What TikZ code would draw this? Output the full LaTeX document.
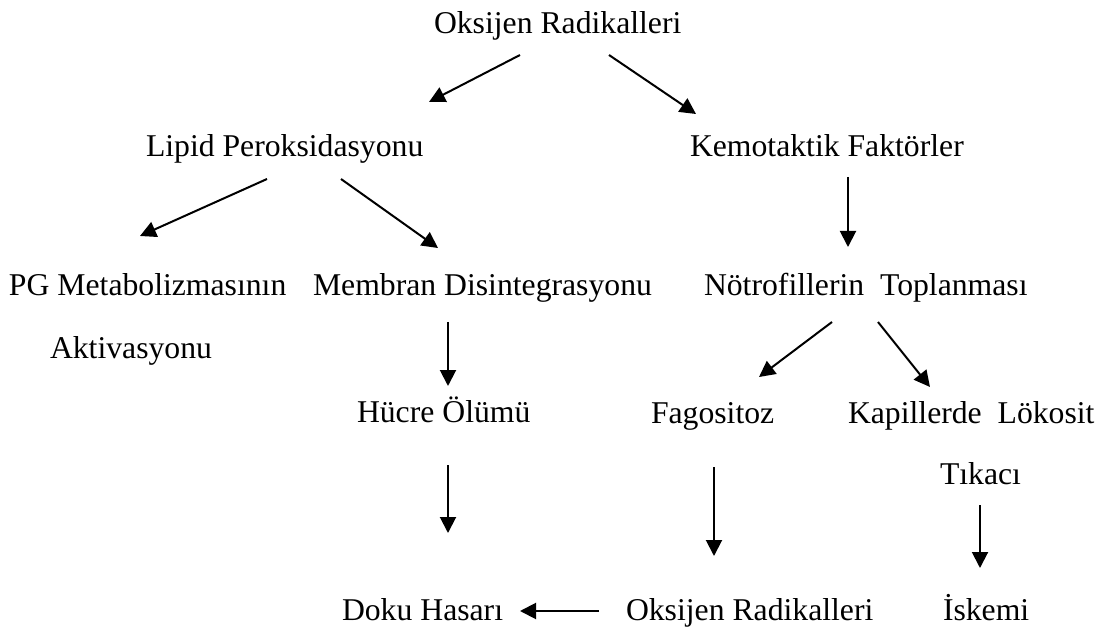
\documentclass[tikz,border=0pt]{standalone}
\usepackage{fontspec}
\setmainfont{Liberation Serif}
\usetikzlibrary{arrows.meta}
\tikzset{
  lbl/.style={anchor=base west, inner sep=0pt, outer sep=0pt, font=\fontsize{31.7}{38}\selectfont},
  arr/.style={line width=2pt, -{Triangle[length=16pt,width=16pt]}}
}
\begin{document}
\begin{tikzpicture}[x=1pt,y=-1pt]
\useasboundingbox (0,0) rectangle (1106,628);
% text nodes
\node[lbl] (top) at (434,34) {Oksijen Radikalleri};
\node[lbl] (lipid) at (146,157) {Lipid Peroksidasyonu};
\node[lbl] (kemo) at (690,157) {Kemotaktik Faktörler};
\node[lbl] (pg) at (9,296) {PG Metabolizmasının};
\node[lbl] (aktiv) at (50,359) {Aktivasyonu};
\node[lbl] (membran) at (313,296) {Membran Disintegrasyonu};
\node[lbl] (notro) at (704,296) {Nötrofillerin\ \ Toplanması};
\node[lbl] (hucre) at (357,422) {Hücre Ölümü};
\node[lbl] (fago) at (651,423) {Fagositoz};
\node[lbl] (kapil) at (848,423) {Kapillerde\ \ Lökosit};
\node[lbl] (tikaci) at (940,484) {Tıkacı};
\node[lbl] (doku) at (342,620) {Doku Hasarı};
\node[lbl] (oks2) at (626,620) {Oksijen Radikalleri};
\node[lbl] (iskemi) at (943,620) {İskemi};
% arrow end points
\coordinate (a1) at (520,55);  \coordinate (a2) at (429,102);
\coordinate (b1) at (609,55);  \coordinate (b2) at (696,114);
\coordinate (c1) at (267,179); \coordinate (c2) at (140,236);
\coordinate (d1) at (341,179); \coordinate (d2) at (438,248);
\coordinate (e1) at (848,177); \coordinate (e2) at (848,247);
\coordinate (f1) at (448,322); \coordinate (f2) at (448,386);
\coordinate (g1) at (832,322); \coordinate (g2) at (759,377);
\coordinate (h1) at (878,322); \coordinate (h2) at (930,387);
\coordinate (i1) at (714,467); \coordinate (i2) at (714,556);
\coordinate (j1) at (980,505); \coordinate (j2) at (980,568);
\coordinate (k1) at (448,465); \coordinate (k2) at (448,533);
\coordinate (l1) at (599,611); \coordinate (l2) at (520,611);
% arrows
\draw[arr] (a1) -- (a2);
\draw[arr] (b1) -- (b2);
\draw[arr] (c1) -- (c2);
\draw[arr] (d1) -- (d2);
\draw[arr] (e1) -- (e2);
\draw[arr] (f1) -- (f2);
\draw[arr] (g1) -- (g2);
\draw[arr] (h1) -- (h2);
\draw[arr] (i1) -- (i2);
\draw[arr] (j1) -- (j2);
\draw[arr] (k1) -- (k2);
\draw[arr] (l1) -- (l2);
\end{tikzpicture}
\end{document}
